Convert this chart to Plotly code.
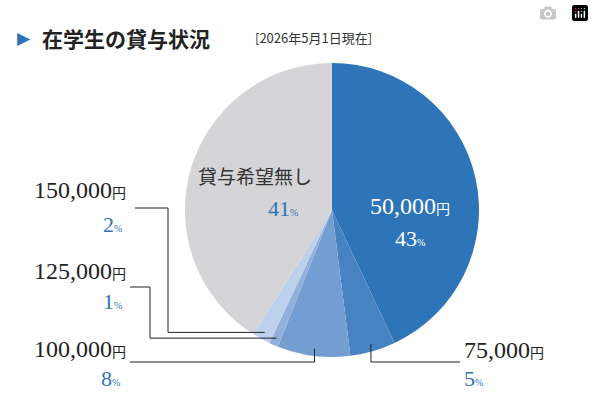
import plotly.graph_objects as go
import math

labels = ["50,000円", "75,000円", "100,000円", "125,000円", "150,000円", "貸与希望無し"]
amounts = ["50,000", "75,000", "100,000", "125,000", "150,000", None]
values = [43, 5, 8, 1, 2, 41]
colors = ["#2e74b8", "#4783c3", "#749dd1", "#93b0dd", "#bdd0ec", "#d5d5d7"]

W, H = 594, 400
cx, cy, r = 332, 210, 147

fig = go.Figure(go.Pie(
    values=values, labels=labels, sort=False, direction="clockwise", rotation=0,
    marker=dict(colors=colors, line=dict(width=0)), textinfo="none", hoverinfo="label+percent",
    domain=dict(x=[(cx - r) / W, (cx + r) / W], y=[1 - (cy + r) / H, 1 - (cy - r) / H]),
    showlegend=False))

def px(x, y):
    return x / W, 1 - y / H

total = sum(values)
cum = 0
anchors = []
for v in values:
    mid = (cum + v / 2) / total * 2 * math.pi
    anchors.append((cx + 0.95 * r * math.sin(mid), cy - 0.95 * r * math.cos(mid)))
    cum += v

shapes = []
def path(pts):
    d = "M " + " L ".join(f"{px(x,y)[0]},{px(x,y)[1]}" for x, y in pts)
    shapes.append(dict(type="path", path=d, xref="paper", yref="paper", line=dict(color="#222", width=1)))

ax, ay = anchors[1]; path([(ax, ay), (ax, 362), (460, 362)])
ax, ay = anchors[2]; path([(ax, ay), (ax, 362), (130, 362)])
ax, ay = anchors[3]; path([(ax, ay), (150, ay), (150, 287), (130, 287)])
ax, ay = anchors[4]; path([(ax, ay), (168, ay), (168, 208), (135, 208)])

ann = []
def t(x, y, text, size, color="#222", anchor="left", family="Liberation Serif"):
    xp, yp = px(x, y)
    ann.append(dict(x=xp, y=yp, xref="paper", yref="paper", text=text, showarrow=False,
                    xanchor=anchor, yanchor="middle", font=dict(size=size, color=color, family=family)))

def amt(a):
    return f"{a}<span style='font-size:14px;font-family:Noto Sans CJK JP'>円</span>"
def pct(v):
    return f"{v}<span style='font-size:10px'>%</span>"

blue = "#2e74b8"
t(410, 206, amt(amounts[0]), 24, "white", "center")
t(410, 238, pct(values[0]), 22, "white", "center")
t(462, 350, amt(amounts[1]), 24)
t(462, 378, pct(values[1]), 22, blue)
t(128, 349, amt(amounts[2]), 24, anchor="right")
t(110, 378, pct(values[2]), 22, blue, "center")
t(128, 271, amt(amounts[3]), 24, anchor="right")
t(112, 301, pct(values[3]), 22, blue, "center")
t(128, 190, amt(amounts[4]), 24, anchor="right")
t(112, 224, pct(values[4]), 22, blue, "center")
t(255, 175, "貸与希望無し", 19, "#333", "center", "Noto Sans CJK JP")
t(283, 208, pct(values[5]), 22, blue, "center")
t(15, 38, "▶", 17, blue, "left", "DejaVu Sans")
t(40, 38, "<b>在学生の貸与状況</b>", 21, "#222", "left", "Noto Sans CJK JP")
t(253, 38, "[2026年5月1日現在]", 13, "#333", "left", "Noto Sans CJK JP")

fig.update_layout(width=W, height=H, margin=dict(l=0, r=0, t=0, b=0),
                  paper_bgcolor="white", shapes=shapes, annotations=ann)
fig.write_html("out.html", post_script="document.body.style.margin='0';document.body.style.padding='0';")
